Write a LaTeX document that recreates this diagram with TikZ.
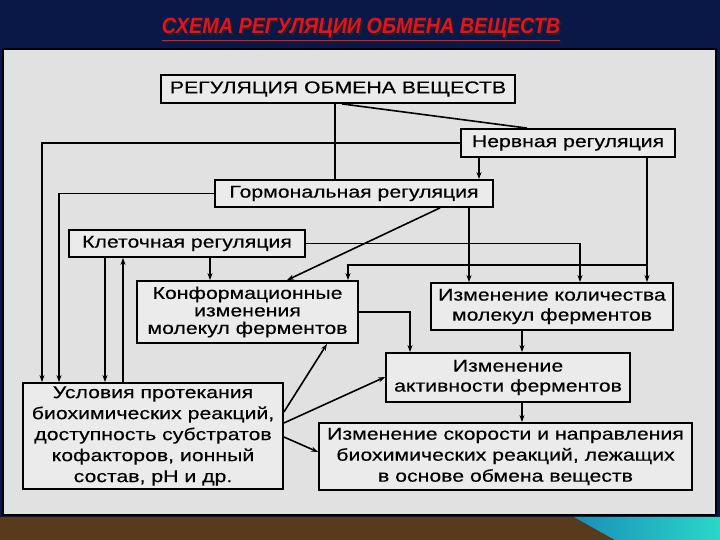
\documentclass[tikz,border=0pt]{standalone}
\usepackage{fontspec}
\setmainfont{Liberation Sans}
\newfontfamily\boxfont[FakeStretch=1.25,FakeBold=0.4]{Liberation Sans}
\newfontfamily\ttlfont[FakeStretch=0.9]{Liberation Sans}
\usetikzlibrary{arrows.meta}
\definecolor{navy}{HTML}{0A1848}
\definecolor{scan}{HTML}{E1E1E1}
\definecolor{boxbg}{HTML}{EBEBEB}
\definecolor{ttlred}{HTML}{E8101A}
\definecolor{brownband}{HTML}{5A3A1C}
\definecolor{tealA}{HTML}{1A8FB8}
\definecolor{tealB}{HTML}{2AD8C8}
\begin{document}
\begin{tikzpicture}[x=1pt,y=-1pt,
  box/.style={draw=black,line width=1.8pt,fill=boxbg,inner sep=0pt,align=center,
    font=\boxfont\fontsize{17}{20}\selectfont},
  conn/.style={line width=1.6pt},
  arr/.style={conn,-{Stealth[length=7pt,width=5pt]}},
  ttl/.style={font=\ttlfont\bfseries\itshape\fontsize{22}{24}\selectfont,inner sep=0pt}
]
\useasboundingbox (0,0) rectangle (720,540);
\fill[navy] (0,0) rectangle (720,540);
\fill[brownband] (0,517) rectangle (720,540);
\shade[left color=tealA,right color=tealB] (574,517) -- (720,517) -- (720,540) -- (615,540) -- cycle;
\draw[line width=2pt,fill=scan] (3,49) rectangle (716,515);

\node[ttl,text=black!85] (ttlsh) at (362.5,31) {\underline{СХЕМА РЕГУЛЯЦИИ ОБМЕНА ВЕЩЕСТВ}};
\node[ttl,text=ttlred] (ttl) at (361,29.5) {\underline{СХЕМА РЕГУЛЯЦИИ ОБМЕНА ВЕЩЕСТВ}};

% boxes
\node[box,minimum width=354pt,minimum height=28pt] (b1) at (338,89) {РЕГУЛЯЦИЯ ОБМЕНА ВЕЩЕСТВ};
\node[box,minimum width=214pt,minimum height=28pt] (b2) at (568,143) {Нервная регуляция};
\node[box,minimum width=278pt,minimum height=27pt] (b3) at (354,193.5) {Гормональная регуляция};
\node[box,minimum width=236pt,minimum height=27pt] (b4) at (187,243.5) {Клеточная регуляция};
\node[box,minimum width=221pt,minimum height=62pt,font=\boxfont\fontsize{17}{17.5}\selectfont] (b5) at (247.5,312) {Конформационные\\изменения\\молекул ферментов};
\node[box,minimum width=242pt,minimum height=47pt] (b6) at (552,306.5) {Изменение количества\\молекул ферментов};
\node[box,minimum width=244pt,minimum height=49pt] (b7) at (508,377.5) {Изменение\\активности ферментов};
\node[box,minimum width=260pt,minimum height=106pt,font=\boxfont\fontsize{17}{21}\selectfont] (b8) at (153,436) {Условия протекания\\биохимических реакций,\\доступность субстратов\\кофакторов, ионный\\состав, рН и др.};
\node[box,minimum width=373pt,minimum height=67pt,font=\boxfont\fontsize{17}{21}\selectfont] (b9) at (505.5,456.5) {Изменение скорости и направления\\биохимических реакций, лежащих\\в основе обмена веществ};

% helper coordinates
\coordinate (xa) at (42,0);
\coordinate (xb) at (59,0);
\coordinate (xc) at (105,0);
\coordinate (xd) at (123,0);
\coordinate (xe) at (210,0);
\coordinate (xf) at (287,0);
\coordinate (xg) at (335,0);
\coordinate (xh) at (342,0);
\coordinate (xi) at (348,0);
\coordinate (xj) at (410,0);
\coordinate (xk) at (440,0);
\coordinate (xl) at (469,0);
\coordinate (xm) at (479,0);
\coordinate (xn) at (522,0);
\coordinate (xo) at (527,0);
\coordinate (xp) at (580,0);
\coordinate (xq) at (647,0);
\coordinate (xr) at (327,0);
\coordinate (yA) at (0,265);
\coordinate (yB) at (0,412);
\coordinate (yC) at (0,423);
\coordinate (yD) at (0,437);
\coordinate (yE) at (0,377);
\coordinate (yF) at (0,452);

% connectors
\draw[conn] (b1.south -| xg) -- (b3.north -| xg);
\draw[conn] (b1.south -| xh) -- (b2.north -| xo);
\draw[arr] (b2.west) -| (b8.north -| xa);
\draw[arr] (b2.south -| xm) -- (b3.north -| xm);
\draw[arr] (b2.south -| xq) -- (b6.north -| xq);
\draw[arr] (xq |- yA) -| (b5.north -| xi);
\draw[arr] (b3.west) -| (b8.north -| xb);
\draw[arr] (b3.south -| xk) -- (b5.north -| xf);
\draw[arr] (b3.south -| xl) -- (b6.north -| xl);
\draw[arr] (b4.east) -| (b6.north -| xp);
\draw[arr] (b4.south -| xe) -- (b5.north -| xe);
\draw[arr] (b4.south -| xc) -- (b8.north -| xc);
\draw[arr] (b8.north -| xd) -- (b4.south -| xd);
\draw[arr] (b5.east) -| (b7.north -| xj);
\draw[arr] (b6.south -| xn) -- (b7.north -| xn);
\draw[arr] (b7.south -| xn) -- (b9.north -| xn);
\draw[arr] (b8.east |- yB) -- (b5.south -| xr);
\draw[arr] (b8.east |- yC) -- (b7.west |- yE);
\draw[arr] (b8.east |- yD) -- (b9.west |- yF);
\end{tikzpicture}
\end{document}
